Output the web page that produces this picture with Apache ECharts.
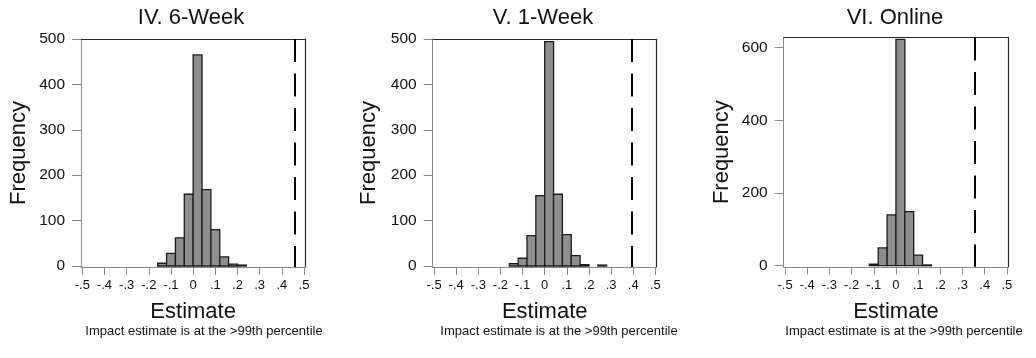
<!DOCTYPE html>
<html>
<head>
<meta charset="utf-8">
<script src="https://cdn.jsdelivr.net/npm/echarts@6/dist/echarts.min.js"></script>
<style>
html,body{margin:0;padding:0;background:#fff;}
#chart{width:1036px;height:358px;}
</style>
</head>
<body>
<div id="chart"></div>
<script>
// ---- data ----
const panelTitles = ['IV. 6-Week', 'V. 1-Week', 'VI. Online'];
const xTicks = [-0.5, -0.4, -0.3, -0.2, -0.1, 0, 0.1, 0.2, 0.3, 0.4, 0.5];
const yTicks6w = [0, 100, 200, 300, 400, 500];
const yTicks1w = [0, 100, 200, 300, 400, 500];
const yTicksOnline = [0, 200, 400, 600];
const binWidth = 0.04;
const bins6w = [-0.16, -0.12, -0.08, -0.04, 0, 0.04, 0.08, 0.12, 0.16, 0.20];
const counts6w = [6, 28, 62, 158, 465, 168, 80, 20, 4, 2];
const bins1w = [-0.16, -0.12, -0.08, -0.04, 0, 0.04, 0.08, 0.12, 0.16, 0.20, 0.24];
const counts1w = [5, 17, 67, 155, 494, 158, 69, 23, 3, 0, 2];
const binsOnline = [-0.12, -0.08, -0.04, 0, 0.04, 0.08, 0.12];
const countsOnline = [4, 49, 140, 623, 149, 29, 2];
const impactEstimates = [0.457, 0.393, 0.353];
const footnote = 'Impact estimate is at the >99th percentile';
const xName = 'Estimate';
const yName = 'Frequency';

// ---- layout / style ----
const FONT = '"Liberation Sans", Arial, Helvetica, sans-serif';
const AXIS_GREY = '#8a8a8a';
const FRAME = '#2a2a2a';
const panels = [
  {bins: bins6w, counts: counts6w, yTicks: yTicks6w, yMin: -2, yMax: 500,
   grid: {left: 81, top: 39, width: 224.3, height: 227.9}, titleX: 191, footX: 204, nameGap: 51},
  {bins: bins1w, counts: counts1w, yTicks: yTicks1w, yMin: -2, yMax: 500,
   grid: {left: 432.7, top: 39, width: 224, height: 227.9}, titleX: 543, footX: 559, nameGap: 53},
  {bins: binsOnline, counts: countsOnline, yTicks: yTicksOnline, yMin: -3, yMax: 628,
   grid: {left: 783.7, top: 37.5, width: 224.5, height: 229.3}, titleX: 895, footX: 904, nameGap: 51}
];
const XPAD = 0.006;

function fmtX(v) {
  if (Math.abs(v) < 1e-9) return '0';
  return (Math.round(v * 10) / 10).toString().replace('0.', '.');
}

const grids = [], xAxes = [], yAxes = [], series = [], graphics = [];
panels.forEach((p, i) => {
  grids.push(Object.assign({show: false, outerBoundsMode: 'none', containLabel: false}, p.grid));
  xAxes.push({
    type: 'value', gridIndex: i, position: 'bottom',
    min: -0.5 - XPAD, max: 0.5 + XPAD,
    axisLine: {show: true, onZero: false, lineStyle: {color: AXIS_GREY, width: 1}},
    axisTick: {show: true, customValues: xTicks, length: 8, lineStyle: {color: AXIS_GREY, width: 1}},
    axisLabel: {show: true, customValues: xTicks, formatter: fmtX, margin: 12,
                fontSize: 13, fontFamily: FONT, color: '#111'},
    splitLine: {show: false},
    name: xName, nameLocation: 'middle', nameGap: 34,
    nameTextStyle: {fontSize: 22, fontFamily: FONT, color: '#111'}
  });
  xAxes.push({
    type: 'value', gridIndex: i, position: 'top',
    min: -0.5 - XPAD, max: 0.5 + XPAD,
    axisLine: {show: true, onZero: false, lineStyle: {color: FRAME, width: 1.2}},
    axisTick: {show: false}, axisLabel: {show: false}, splitLine: {show: false}
  });
  yAxes.push({
    type: 'value', gridIndex: i, position: 'left',
    min: p.yMin, max: p.yMax,
    axisLine: {show: true, onZero: false, lineStyle: {color: AXIS_GREY, width: 1}},
    axisTick: {show: true, customValues: p.yTicks, length: 9, lineStyle: {color: AXIS_GREY, width: 1}},
    axisLabel: {show: true, customValues: p.yTicks, margin: 16,
                fontSize: 15.5, fontFamily: FONT, color: '#111'},
    splitLine: {show: false},
    name: yName, nameLocation: 'middle', nameGap: p.nameGap, nameRotate: 90,
    nameTextStyle: {fontSize: 22, fontFamily: FONT, color: '#111'}
  });
  yAxes.push({
    type: 'value', gridIndex: i, position: 'right',
    min: p.yMin, max: p.yMax,
    axisLine: {show: true, onZero: false, lineStyle: {color: FRAME, width: 1.2}},
    axisTick: {show: false}, axisLabel: {show: false}, splitLine: {show: false}
  });

  const data = p.bins.map((b, k) => [b, b + binWidth, p.counts[k]]).filter(d => d[2] > 0);
  series.push({
    type: 'custom',
    xAxisIndex: i * 2, yAxisIndex: i * 2,
    silent: true,
    encode: {x: [0, 1], y: 2},
    data: data,
    renderItem: function (params, api) {
      const p0 = api.coord([api.value(0), 0]);
      const p1 = api.coord([api.value(1), api.value(2)]);
      return {
        type: 'rect',
        shape: {x: p0[0], y: p1[1], width: p1[0] - p0[0], height: p0[1] - p1[1]},
        style: {fill: '#8e8e8e', stroke: '#1c1c1c', lineWidth: 1.3}
      };
    },
    markLine: {
      silent: true, symbol: ['none', 'none'], animation: false,
      label: {show: false},
      lineStyle: {type: [23, 11.5], width: 2, color: '#000'},
      data: [[{coord: [impactEstimates[i], p.yMax]}, {coord: [impactEstimates[i], p.yMin]}]]
    }
  });

  graphics.push({
    type: 'text', x: p.titleX, y: 18,
    style: {text: panelTitles[i], fontSize: 22, fontFamily: FONT, fill: '#111',
            align: 'center', verticalAlign: 'middle', textAlign: 'center', textVerticalAlign: 'middle'}
  });
  graphics.push({
    type: 'text', x: p.footX, y: 331,
    style: {text: footnote, fontSize: 13, fontFamily: FONT, fill: '#111',
            align: 'center', verticalAlign: 'middle', textAlign: 'center', textVerticalAlign: 'middle'}
  });
});

const chart = echarts.init(document.getElementById('chart'), null, {renderer: 'canvas'});
chart.setOption({
  animation: false,
  backgroundColor: '#fff',
  grid: grids,
  xAxis: xAxes,
  yAxis: yAxes,
  series: series,
  graphic: graphics
});
</script>
</body>
</html>
